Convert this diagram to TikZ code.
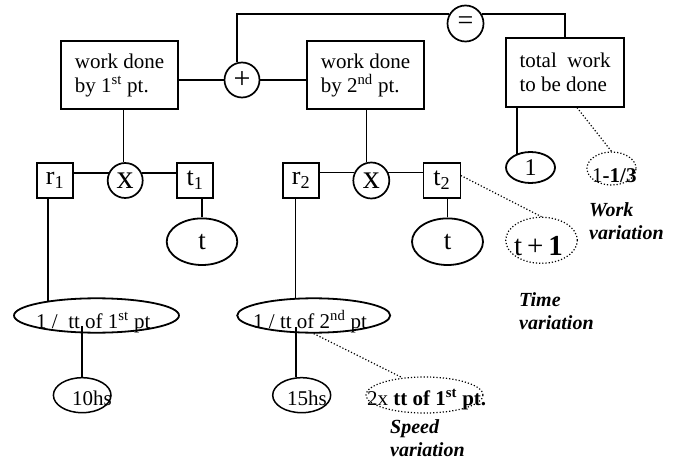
\documentclass[tikz,border=0pt]{standalone}
\usepackage{fontspec}
\setmainfont{Liberation Serif}
\usetikzlibrary{shapes.geometric}

\tikzset{
  box/.style={draw, line width=1.2pt, inner sep=0pt},
  textbox/.style={box, minimum width=117pt, minimum height=68pt,
    align=left, font=\fontsize{21}{24}\selectfont},
  smallbox/.style={box, minimum width=36pt, minimum height=35pt, font=\fontsize{26}{26}\selectfont},
  op/.style={draw, circle, line width=1.7pt, minimum size=35pt, inner sep=0pt},
  oval/.style={draw, ellipse, line width=1.8pt, inner sep=0pt},
  dotoval/.style={draw, ellipse, dotted, line width=1.2pt, inner sep=0pt},
  wire/.style={line width=1.7pt},
  note/.style={dotted, line width=1.2pt},
  txt/.style={inner sep=0pt, anchor=base west, font=\fontsize{21}{24}\selectfont},
  bigtxt/.style={inner sep=0pt, font=\fontsize{27}{27}\selectfont},
  caption/.style={inner sep=0pt, anchor=base west, align=left,
    font=\fontsize{20}{23}\selectfont\bfseries\itshape},
}

\begin{document}
\begin{tikzpicture}[x=1pt, y=-1pt]
\useasboundingbox (0,0) rectangle (679,462);
\fill[white] (0,0) rectangle (679,462);

% --- top level: work of both parts equals total work ---
\node[textbox] (wd1) at (119.5,75) {work done\\by 1\textsuperscript{st} pt.};
\node[textbox] (wd2) at (365.5,75) {work done\\by 2\textsuperscript{nd} pt.};
\node[textbox, minimum width=118pt, minimum height=69pt] (total) at (565,72.5) {total\ \ work\\to be done};
\node[op, font=\fontsize{30}{30}\selectfont] (plus) at (242,80) {+};
\node[op, minimum size=36pt, font=\fontsize{28}{28}\selectfont] (eq) at (465.5,23.5) {=};

\draw[wire] (plus.west) -- (plus.west -| wd1.east);
\draw[wire] (plus.east) -- (plus.east -| wd2.west);
\draw[wire] (plus.105) |- (eq.150);
\draw[wire] (eq.30) -| (total.north);

% --- work = rate x time, first part ---
\node[smallbox] (r1) at (55,180.5) {r\textsubscript{1}};
\node[op, font=\fontsize{34}{34}\selectfont] (x1) at (125.2,180.5) {x};
\node[smallbox] (t1) at (195,180.5) {t\textsubscript{1}};
\draw[wire] (x1.95) -- (x1.95 |- wd1.south);
\draw[wire] (x1.155) -- (x1.155 -| r1.east);
\draw[wire] (x1.25) -- (x1.25 -| t1.west);

\node[oval, minimum width=70.6pt, minimum height=46.6pt] (tell1) at (202,241.7) {};
\node[bigtxt] (tell1t) at (tell1.center) {t};
\draw[wire] (tell1.north) -- (tell1.north |- t1.south);

\node[oval, minimum width=165pt, minimum height=34.4pt] (ell1) at (96.5,315.5) {};
\node[txt] (ell1t) at (36,328) {1 /\enspace tt of 1\textsuperscript{st} pt};
\draw[wire] (ell1.163.6) -- (ell1.163.6 |- r1.south);

\node[oval, line width=1.5pt, minimum width=57.6pt, minimum height=35pt] (h10) at (82.2,395.2) {};
\node[txt] (h10t) at (72,405) {10hs};
\path (ell1.center -| h10.north) ++(0,10) coordinate (foot1);
\draw[wire] (h10.north) -- (foot1);

% --- work = rate x time, second part ---
\node[smallbox] (r2) at (301,180.5) {r\textsubscript{2}};
\node[op, minimum size=36pt, font=\fontsize{34}{34}\selectfont] (x2) at (371.3,180.5) {x};
\node[smallbox, minimum width=37pt] (t2) at (441.7,180.5) {t\textsubscript{2}};
\draw[wire] (x2.105) -- (x2.105 |- wd2.south);
\draw[wire] (x2.155) -- (x2.155 -| r2.east);
\draw[wire] (x2.25) -- (x2.25 -| t2.west);

\node[oval, minimum width=71pt, minimum height=46.6pt] (tell2) at (447.5,241.7) {};
\node[bigtxt] (tell2t) at (tell2.center) {t};
\draw[wire] (tell2.north) -- (tell2.north |- t2.south);

\node[oval, minimum width=153pt, minimum height=34.4pt] (ell2) at (313.7,315.5) {};
\node[txt] (ell2t) at (253,328) {1 / tt of 2\textsuperscript{nd} pt};
\draw[wire] (ell2.136.7) -- (ell2.136.7 |- r2.south);

\node[oval, line width=1.5pt, minimum width=58pt, minimum height=35pt] (h15) at (301.7,395.2) {};
\node[txt] (h15t) at (287,405) {15hs};
\path (ell2.center -| h15.108) ++(0,11) coordinate (foot2);
\draw[wire, line width=1.3pt] (h15.108) -- (foot2);

% --- total work ---
\node[oval, minimum width=49pt, minimum height=31pt] (one) at (530.5,167.5) {};
\node[inner sep=0pt, font=\fontsize{24}{24}\selectfont] (onet) at (one.center) {1};
\draw[wire] (one.134) -- (one.134 |- total.south);

% --- variations ---
\node[dotoval, minimum width=49pt, minimum height=33pt] (w13) at (611.5,168.5) {};
\node[txt] (w13t) at (592,183) {1\textbf{-1/3}};
\draw[note] ([xshift=12pt]total.south) -- (w13.north);
\node[caption] (workcap) at (589,240) {Work\\variation};

\node[dotoval, minimum width=71.6pt, minimum height=46pt] (tp1) at (541.5,240.3) {};
\node[inner sep=0pt, anchor=base west, font=\fontsize{29}{29}\selectfont] (tp1t) at (514,255) {t\,+\,\textbf{1}};
\draw[note] ([yshift=5pt]t2.east) -- (tp1.north);
\node[caption] (timecap) at (519,329) {Time\\variation};

\node[dotoval, minimum width=117pt, minimum height=36pt] (sp) at (424.5,395) {};
\node[txt] (spt) at (367,405) {2x \textbf{tt of 1\textsuperscript{st} pt.}};
\draw[note] (ell2.south) -- (sp.142.2);
\node[caption] (speedcap) at (390,456) {Speed\\variation};
\end{tikzpicture}
\end{document}
